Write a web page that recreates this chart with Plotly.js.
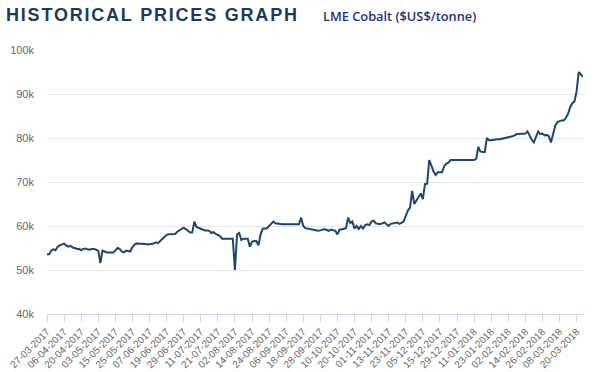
<!DOCTYPE html>
<html>
<head>
<meta charset="utf-8">
<script src="https://cdn.plot.ly/plotly-3.0.1.min.js"></script>
<style>
  html, body { margin: 0; padding: 0; background: #ffffff; }
  #wrap { position: relative; width: 600px; height: 372px; overflow: hidden; }
  #chart { position: absolute; left: 0; top: 0; width: 600px; height: 372px; }
  #title { position: absolute; left: 6px; top: 5px; font-family: "Liberation Sans", Arial, sans-serif; font-weight: bold; font-size: 18px; letter-spacing: 1.8px; color: #1d3a5c; z-index: 5; white-space: nowrap; }
  #subtitle { position: absolute; left: 323px; top: 7px; font-family: "Open Sans", "Liberation Sans", Arial, sans-serif; font-weight: 600; font-size: 12.8px; color: #1f2f80; z-index: 5; white-space: nowrap; }
</style>
</head>
<body>
<div id="wrap">
  <div id="chart"></div>
  <div id="title">HISTORICAL PRICES GRAPH</div>
  <div id="subtitle">LME Cobalt ($US$/tonne)</div>
</div>
<script>
// LME cobalt cash price, US$/tonne, one value per LME trading day from 27-03-2017
const startDate = '2017-03-27';
const lmeHolidays = ['2017-04-14', '2017-04-17', '2017-05-01', '2017-05-29', '2017-08-28',
                     '2017-12-25', '2017-12-26', '2018-01-01'];

const prices = [
  53600, 53600, 54400, 54700, 54500, 55300, 55600, 55900, 56000, 55600,
  55300, 55500, 55100, 55000, 54800, 54800, 54500, 54800, 54900, 54700,
  54600, 54800, 54800, 54600, 54400, 51600, 54400, 54200, 54000, 54000,
  54000, 54000, 54400, 55000, 54800, 54200, 54000, 54400, 54300, 54200,
  55200, 55800, 56000, 56000, 56000, 55900, 55900, 55800, 55900, 56000,
  56000, 56300, 56100, 56600, 57000, 57600, 58000, 58100, 58100, 58100,
  58200, 58700, 59000, 59300, 59600, 59300, 58900, 58500, 58500, 61000,
  59800, 59600, 59300, 59100, 59000, 59000, 58900, 58400, 58600, 58200,
  58000, 57700, 57100, 57100, 57100, 57100, 57100, 57100, 50000, 58100,
  58400, 56800, 57100, 57100, 57100, 55300, 56400, 56600, 56600, 55600,
  58000, 59400, 59500, 59500, 60000, 60600, 61000, 60600, 60500, 60400,
  60400, 60400, 60400, 60400, 60400, 60400, 60300, 60300, 60400, 61900,
  60000, 59500, 59400, 59300, 59200, 59200, 59000, 58900, 59000, 59100,
  59300, 59100, 58900, 59200, 59100, 58900, 58100, 59200, 59200, 59300,
  59500, 61900, 60700, 61000, 59400, 60000, 59300, 60000, 59400, 60200,
  60400, 60200, 61000, 61200, 60600, 60500, 60400, 60600, 60800, 60400,
  60000, 60500, 60600, 60700, 60800, 60500, 60700, 61000, 62300, 63500,
  64200, 68000, 65000, 65800, 66400, 67400, 66100, 69500, 69600, 75000,
  73700, 72400, 71600, 72200, 72200, 72200, 73600, 74200, 74400, 75000,
  75000, 75000, 75000, 75000, 75000, 75000, 75000, 75000, 75000, 75000,
  75000, 75300, 78000, 76900, 76800, 76800, 80000, 79500, 79500, 79600,
  79600, 79700, 79700, 79800, 79900, 80000, 80200, 80300, 80400, 80600,
  80900, 80900, 80900, 80900, 81000, 81500, 80400, 79600, 79000, 80200,
  81500, 80900, 81000, 80600, 80700, 80400, 79000, 80900, 82800, 83600,
  83900, 84000, 84000, 84600, 85500, 87000, 87900, 88300, 90600, 95000,
  94400, 93900
];

const tickLabels = [
  '27-03-2017', '06-04-2017', '20-04-2017', '03-05-2017', '15-05-2017', '25-05-2017',
  '07-06-2017', '19-06-2017', '29-06-2017', '11-07-2017', '21-07-2017', '02-08-2017',
  '14-08-2017', '24-08-2017', '06-09-2017', '18-09-2017', '28-09-2017', '10-10-2017',
  '20-10-2017', '01-11-2017', '13-11-2017', '23-11-2017', '05-12-2017', '15-12-2017',
  '29-12-2017', '11-01-2018', '23-01-2018', '02-02-2018', '14-02-2018', '26-02-2018',
  '08-03-2018', '20-03-2018'
];

const yTicks = [40000, 50000, 60000, 70000, 80000, 90000, 100000];
const yTickLabels = ['40k', '50k', '60k', '70k', '80k', '90k', '100k'];

// Build trading-day categories (weekdays minus LME holidays)
function pad(n) { return (n < 10 ? '0' : '') + n; }
const dates = [];
let d = new Date(startDate + 'T00:00:00Z');
while (dates.length < prices.length) {
  const iso = d.toISOString().slice(0, 10);
  const wd = d.getUTCDay();
  if (wd !== 0 && wd !== 6 && lmeHolidays.indexOf(iso) === -1) {
    dates.push(pad(d.getUTCDate()) + '-' + pad(d.getUTCMonth() + 1) + '-' + d.getUTCFullYear());
  }
  d = new Date(d.getTime() + 86400000);
}

const trace = {
  type: 'scatter',
  mode: 'lines',
  x: dates,
  y: prices,
  line: { color: '#1c4672', width: 2 },
  hoverinfo: 'x+y'
};

const layout = {
  width: 600,
  height: 372,
  margin: { l: 47, r: 17, t: 50, b: 58 },
  paper_bgcolor: '#ffffff',
  plot_bgcolor: '#ffffff',
  showlegend: false,
  font: { family: '"Liberation Sans", Arial, sans-serif', color: '#666666', size: 11 },
  xaxis: {
    type: 'category',
    range: [0, prices.length - 1],
    tickmode: 'array',
    tickvals: tickLabels,
    ticktext: tickLabels,
    tickangle: -45,
    ticks: 'outside',
    ticklen: 7,
    tickcolor: '#ccd6eb',
    tickwidth: 1,
    showline: true,
    linecolor: '#ccd6eb',
    linewidth: 1,
    showgrid: false,
    zeroline: false,
    tickfont: { size: 10, color: '#666666' },
    fixedrange: true
  },
  yaxis: {
    range: [40000, 100000],
    tickmode: 'array',
    tickvals: yTicks,
    ticktext: yTickLabels,
    showgrid: true,
    gridcolor: '#e6e6e6',
    gridwidth: 1,
    zeroline: false,
    showline: false,
    ticks: '',
    ticklabelstandoff: 12,
    tickfont: { size: 11, color: '#666666' },
    fixedrange: true
  }
};

Plotly.newPlot('chart', [trace], layout, { displayModeBar: false, staticPlot: true });
</script>
</body>
</html>
